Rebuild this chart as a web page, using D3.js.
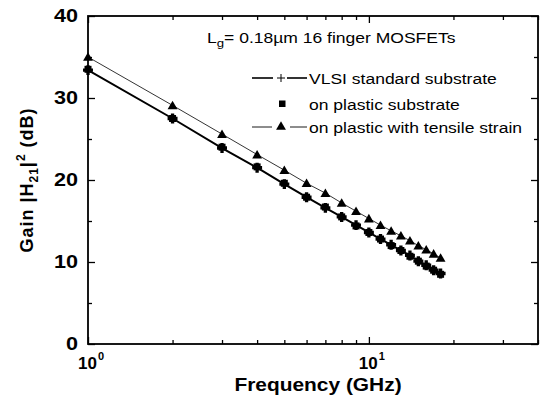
<!DOCTYPE html>
<html>
<head>
<meta charset="utf-8">
<script src="https://cdn.jsdelivr.net/npm/d3@7"></script>
<style>
  body { margin: 0; background: #fff; }
  text { font-family: Arial, "Liberation Sans", sans-serif; fill: #000; }
</style>
</head>
<body>
<script>
// frequency points (GHz)
const freq = [1, 2, 3, 4, 5, 6, 7, 8, 9, 10, 11, 12, 13, 14, 15, 16, 17, 18];
// |H21|^2 in dB
const vlsi    = [33.4, 27.5, 23.9, 21.5, 19.5, 17.9, 16.6, 15.5, 14.5, 13.6, 12.8, 12.1, 11.4, 10.8, 10.1, 9.6, 9.0, 8.6];
const plastic = [33.5, 27.5, 24.0, 21.6, 19.6, 17.9, 16.7, 15.5, 14.4, 13.6, 12.8, 12.0, 11.4, 10.7, 10.1, 9.5, 9.0, 8.5];
const strain  = [35.0, 29.1, 25.6, 23.1, 21.2, 19.6, 18.4, 17.2, 16.2, 15.3, 14.5, 13.8, 13.2, 12.6, 12.0, 11.5, 11.0, 10.5];

const yMajor = [0, 10, 20, 30, 40];
const yMinor = [5, 15, 25, 35];
const xMajor = [1, 10];
const xMinor = [2, 3, 4, 5, 6, 7, 8, 9, 20, 30, 40];
const legendLabels = ['VLSI standard substrate', 'on plastic substrate', 'on plastic with tensile strain'];

const W = 542, H = 400;
const margin = { top: 16, right: 4, bottom: 56, left: 88 };
const width = W - margin.left - margin.right;
const height = H - margin.top - margin.bottom;
const sx = 1.2; // text in the figure is stretched horizontally

const svg = d3.select('body').append('svg')
  .attr('width', W).attr('height', H);
const g = svg.append('g')
  .attr('transform', 'translate(' + margin.left + ',' + margin.top + ')');

const x = d3.scaleLog().domain([1, 40]).range([0, width]);
const y = d3.scaleLinear().domain([0, 40]).range([height, 0]);

// ticks on all four sides, pointing inward
function ticks(axisFn, vals, size, transform) {
  const a = g.append('g')
    .attr('transform', transform || null)
    .call(axisFn.tickValues(vals).tickSizeInner(size).tickSizeOuter(0).tickFormat(''));
  a.select('.domain').remove();
  a.selectAll('line').attr('stroke', '#000').attr('stroke-width', 1.3);
}
ticks(d3.axisBottom(x), xMajor, -7, 'translate(0,' + height + ')');
ticks(d3.axisBottom(x), xMinor, -4, 'translate(0,' + height + ')');
ticks(d3.axisTop(x), xMajor, -7);
ticks(d3.axisTop(x), xMinor, -4);
ticks(d3.axisLeft(y), yMajor, -7);
ticks(d3.axisLeft(y), yMinor, -4);
ticks(d3.axisRight(y), yMajor, -7, 'translate(' + width + ',0)');
ticks(d3.axisRight(y), yMinor, -4, 'translate(' + width + ',0)');

g.append('rect')
  .attr('width', width).attr('height', height)
  .attr('fill', 'none').attr('stroke', '#000').attr('stroke-width', 1.8);

// y tick labels
yMajor.forEach(v => {
  g.append('text')
    .attr('transform', 'translate(-10,' + (y(v) + 6) + ') scale(' + sx + ',1)')
    .attr('text-anchor', 'end')
    .attr('font-size', 18).attr('font-weight', 'bold')
    .text(v);
});

// x tick labels 10^n
xMajor.forEach(v => {
  const t = g.append('text')
    .attr('transform', 'translate(' + (x(v) + 3) + ',' + (height + 25) + ')')
    .attr('text-anchor', 'middle')
    .attr('font-size', 17).attr('font-weight', 'bold');
  t.append('tspan').text('10');
  t.append('tspan').attr('dy', -9).attr('dx', 1).attr('font-size', 11).text(Math.round(Math.log10(v)));
});

// axis titles
svg.append('text')
  .attr('transform', 'translate(' + (margin.left + width / 2 + 5) + ',391) scale(1.1,1)')
  .attr('text-anchor', 'middle')
  .attr('font-size', 19).attr('font-weight', 'bold')
  .text('Frequency (GHz)');

const yl = svg.append('text')
  .attr('transform', 'translate(33,' + (margin.top + height / 2) + ') rotate(-90)')
  .attr('text-anchor', 'middle')
  .attr('font-size', 18).attr('font-weight', 'bold')
  .attr('letter-spacing', 1);
yl.append('tspan').text('Gain |H');
yl.append('tspan').attr('dy', 5).attr('font-size', 12).text('21');
yl.append('tspan').attr('dy', -5).text('|');
yl.append('tspan').attr('dy', -8).attr('font-size', 12).text('2');
yl.append('tspan').attr('dy', 8).text(' (dB)');

// lines
const line = d3.line().x(d => x(d[0])).y(d => y(d[1]));
g.append('path')
  .datum(freq.map((f, i) => [f, vlsi[i]]))
  .attr('d', line).attr('fill', 'none').attr('stroke', '#000').attr('stroke-width', 2);
g.append('path')
  .datum(freq.map((f, i) => [f, strain[i]]))
  .attr('d', line).attr('fill', 'none').attr('stroke', '#000').attr('stroke-width', 0.8);

// markers
const tri = d3.symbol().type(d3.symbolTriangle).size(42);
g.selectAll('.tri').data(freq.map((f, i) => [f, strain[i]])).enter()
  .append('path')
  .attr('transform', d => 'translate(' + x(d[0]) + ',' + (y(d[1]) + 1) + ')')
  .attr('d', tri).attr('fill', '#000');

g.selectAll('.sq').data(freq.map((f, i) => [f, plastic[i]])).enter()
  .append('rect')
  .attr('x', d => x(d[0]) - 3.5).attr('y', d => y(d[1]) - 3.5)
  .attr('width', 7).attr('height', 7).attr('fill', '#000');

const plus = d3.symbol().type(d3.symbolCross).size(55);
g.selectAll('.plus').data(freq.map((f, i) => [f, vlsi[i]])).enter()
  .append('path')
  .attr('transform', d => 'translate(' + x(d[0]) + ',' + y(d[1]) + ')')
  .attr('d', plus).attr('fill', '#000');

// title
const title = svg.append('text')
  .attr('transform', 'translate(207,43) scale(' + sx + ',1)')
  .attr('font-size', 14.6);
title.append('tspan').text('L');
title.append('tspan').attr('dy', 4).attr('font-size', 11).text('g');
title.append('tspan').attr('dy', -4).text('= 0.18\u00b5m 16 finger MOSFETs');

// legend
const lg = svg.append('g');
const rows = [78, 104, 127];
// row 1: line with + marker
lg.append('line').attr('x1', 252).attr('x2', 273).attr('y1', rows[0]).attr('y2', rows[0]).attr('stroke', '#000').attr('stroke-width', 1.6);
lg.append('line').attr('x1', 287).attr('x2', 307).attr('y1', rows[0]).attr('y2', rows[0]).attr('stroke', '#000').attr('stroke-width', 1.6);
lg.append('path').attr('transform', 'translate(281,' + rows[0] + ')').attr('d', 'M-4,0H4M0,-4V4').attr('stroke', '#000').attr('stroke-width', 1);
// row 2: square
lg.append('rect').attr('x', 279).attr('y', rows[1] - 3.5).attr('width', 6.5).attr('height', 6.5).attr('fill', '#000');
// row 3: thin line with triangle
lg.append('line').attr('x1', 252).attr('x2', 272).attr('y1', rows[2]).attr('y2', rows[2]).attr('stroke', '#000').attr('stroke-width', 0.9);
lg.append('line').attr('x1', 290).attr('x2', 307).attr('y1', rows[2]).attr('y2', rows[2]).attr('stroke', '#000').attr('stroke-width', 0.9);
lg.append('path').attr('transform', 'translate(281,' + rows[2] + ')').attr('d', tri).attr('fill', '#000');

legendLabels.forEach((s, i) => {
  lg.append('text')
    .attr('transform', 'translate(309,' + (rows[i] + 5.5) + ') scale(' + sx + ',1)')
    .attr('font-size', 14.6)
    .text(s);
});
</script>
</body>
</html>
